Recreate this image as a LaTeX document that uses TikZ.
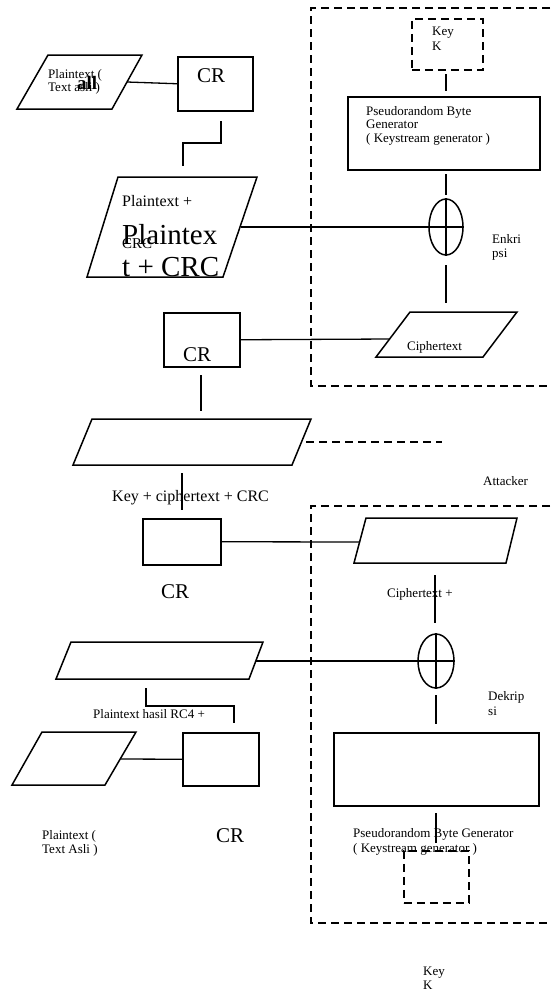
\documentclass[tikz,border=0pt]{standalone}
\usepackage{fontspec}
\setmainfont{Liberation Serif}
\usetikzlibrary{shapes.geometric}
\begin{document}
\begin{tikzpicture}[x=1pt,y=-1pt,
  boxn/.style={draw, line width=1.5pt, inner sep=0pt, anchor=north west},
  keybox/.style={draw, line width=1.5pt, dash pattern=on 8pt off 5pt, inner sep=0pt, anchor=north west},
  shp/.style={draw, line width=1.5pt, line join=miter},
  conn/.style={draw, line width=1.3pt},
  dashln/.style={draw, line width=1.5pt, dash pattern=on 8pt off 5pt},
  xorn/.style={draw, ellipse, line width=1.5pt, inner sep=0pt},
  tsm/.style={inner sep=0pt, anchor=base west, font=\fontsize{13}{15}\selectfont},
  tmd/.style={inner sep=0pt, anchor=base west, font=\fontsize{16}{18}\selectfont},
  tcr/.style={inner sep=0pt, anchor=base west, font=\fontsize{21}{24}\selectfont},
  tbig/.style={inner sep=0pt, anchor=base west, font=\fontsize{29}{33}\selectfont}]
\useasboundingbox (0,0) rectangle (550,991);

% ---------- outer dashed regions ----------
\draw[dashln] (550,8) -- (311,8) -- (311,386) -- (550,386);
\draw[dashln] (550,506) -- (311,506) -- (311,923) -- (550,923);

% ---------- top-left: plaintext -> CR ----------
\draw[shp] (48,55) -- (142,55) -- (112,109) -- (17,109) -- cycle;
\coordinate (p1r) at (127,82);
\node[tsm] (p1t1) at (48,78) {Plaintext (};
\node[tsm] (p1t2) at (48,91) {Text asli )};
\node[inner sep=0pt, anchor=base west, font=\fontsize{19}{21}\selectfont\bfseries] (p1big) at (77,89) {all};

\node[boxn, minimum width=75pt, minimum height=54pt] (cr1) at (177,56) {};
\node[tcr] (cr1t) at (197,82) {CR};
\draw[conn] (p1r) -- (cr1.west);

% step connector CR1 -> P2
\coordinate (s1a) at (221,121);
\coordinate (s1b) at (221,143);
\coordinate (s1c) at (183,143);
\coordinate (s1d) at (183,166);
\draw[conn] (s1a) -- (s1b) -- (s1c) -- (s1d);

% ---------- P2 plaintext + CRC ----------
\draw[shp] (118,177) -- (257,177) -- (223,277) -- (87,277) -- cycle;
\coordinate (p2r) at (241,227);
\node[tmd] (p2t1) at (122,206) {Plaintext +};
\node[tsm, font=\fontsize{15}{17}\selectfont] (p2t2) at (122,248) {CRC};
\node[tbig] (p2b1) at (122,244) {Plaintex};
\node[tbig] (p2b2) at (122,276) {t + CRC};

% ---------- encryption block ----------
\node[keybox, minimum width=71pt, minimum height=51pt] (key1) at (411,18) {};
\node[tsm] (key1a) at (432,35) {Key};
\node[tsm] (key1b) at (432,50) {K};

\node[boxn, minimum width=192pt, minimum height=73pt] (prbg1) at (347,96) {};
\node[tsm] (prbg1a) at (366,115) {Pseudorandom Byte};
\node[tsm] (prbg1b) at (366,128.5) {Generator};
\node[tsm] (prbg1c) at (366,142) {( Keystream generator )};

\coordinate (k1a) at (446,74);
\coordinate (k1b) at (446,91);
\draw[conn] (k1a) -- (k1b);

\node[xorn, minimum width=34pt, minimum height=56pt] (x1) at (446,227) {};
\draw[line width=1.3pt] (x1.west) -- (x1.east);
\draw[line width=1.3pt] (x1.north) -- (x1.south);

\coordinate (g1a) at (446,174);
\coordinate (g1b) at (446,195);
\draw[conn] (g1a) -- (g1b);
\draw[conn] (p2r) -- (x1.west);

\node[tsm] (enk1) at (492,243) {Enkri};
\node[tsm] (enk2) at (492,257) {psi};

\coordinate (e1a) at (446,265);
\coordinate (e1b) at (446,303);
\draw[conn] (e1a) -- (e1b);

\draw[shp] (410,312) -- (517,312) -- (483,357) -- (376,357) -- cycle;
\coordinate (c1l) at (390,339);
\node[tsm] (c1t) at (407,350) {Ciphertext};

% ---------- CR2 ----------
\node[boxn, minimum width=76pt, minimum height=54pt] (cr2) at (163,312) {};
\node[tcr] (cr2t) at (183,361) {CR};
\draw[conn] (cr2.east) -- (c1l);

\coordinate (v2a) at (201,375);
\coordinate (v2b) at (201,411);
\draw[conn] (v2a) -- (v2b);

% ---------- P3 ----------
\draw[shp] (92,419) -- (311,419) -- (292,465) -- (73,465) -- cycle;
\coordinate (p3r) at (306,442);
\coordinate (att) at (442,442);
\draw[dashln] (p3r) -- (att);
\node[tsm] (attk) at (483,485) {Attacker};

\coordinate (v3a) at (182,473);
\coordinate (v3b) at (182,510);
\draw[conn] (v3a) -- (v3b);
\node[tmd] (kct) at (112,501) {Key + ciphertext + CRC};

% ---------- CR3 ----------
\node[boxn, minimum width=78pt, minimum height=46pt] (cr3) at (142,518) {};
\node[tcr] (cr3t) at (161,598) {CR};

% ---------- decryption block ----------
\draw[shp] (366,518) -- (517,518) -- (506,563) -- (354,563) -- cycle;
\coordinate (c2l) at (360,542);
\draw[conn] (cr3.east) -- (c2l);

\coordinate (v4a) at (435,575);
\coordinate (v4b) at (435,623);
\draw[conn] (v4a) -- (v4b);
\node[tsm] (c2t) at (387,597) {Ciphertext +};

\node[xorn, minimum width=36pt, minimum height=54pt] (x2) at (436,661) {};
\draw[line width=1.3pt] (x2.west) -- (x2.east);
\draw[line width=1.3pt] (x2.north) -- (x2.south);

\node[tsm] (dek1) at (488,700) {Dekrip};
\node[tsm] (dek2) at (488,715) {si};

\coordinate (v5a) at (436,695);
\coordinate (v5b) at (436,724);
\draw[conn] (v5a) -- (v5b);

\node[boxn, minimum width=205pt, minimum height=73pt] (prbg2) at (333,732) {};
\coordinate (v6a) at (436,813);
\coordinate (v6b) at (436,843);
\draw[conn] (v6a) -- (v6b);
\node[tsm] (prbg2a) at (353,837) {Pseudorandom Byte Generator};
\node[tsm] (prbg2b) at (353,852) {( Keystream generator )};

\node[keybox, minimum width=65pt, minimum height=52pt] (key2) at (403,850) {};
\node[tsm] (key2a) at (423,975) {Key};
\node[tsm] (key2b) at (423,989) {K};

% ---------- P4 ----------
\draw[shp] (71,642) -- (263,642) -- (249,679) -- (56,679) -- cycle;
\coordinate (p4r) at (256,661);
\draw[conn] (p4r) -- (x2.west);

\coordinate (s4a) at (146,688);
\coordinate (s4b) at (146,706);
\coordinate (s4c) at (234,706);
\coordinate (s4d) at (234,723);
\draw[conn] (s4a) -- (s4b) -- (s4c) -- (s4d);
\node[tsm] (p4t) at (93,718) {Plaintext hasil RC4 +};

% ---------- P5 and CR4 ----------
\draw[shp] (42,732) -- (136,732) -- (105,785) -- (12,785) -- cycle;
\coordinate (p5r) at (121,759);
\node[boxn, minimum width=76pt, minimum height=53pt] (cr4) at (182,732) {};
\draw[conn] (p5r) -- (cr4.west);

\node[tsm] (p5t1) at (42,839) {Plaintext (};
\node[tsm] (p5t2) at (42,853) {Text Asli )};
\node[tcr] (cr4t) at (216,842) {CR};

\end{tikzpicture}
\end{document}
